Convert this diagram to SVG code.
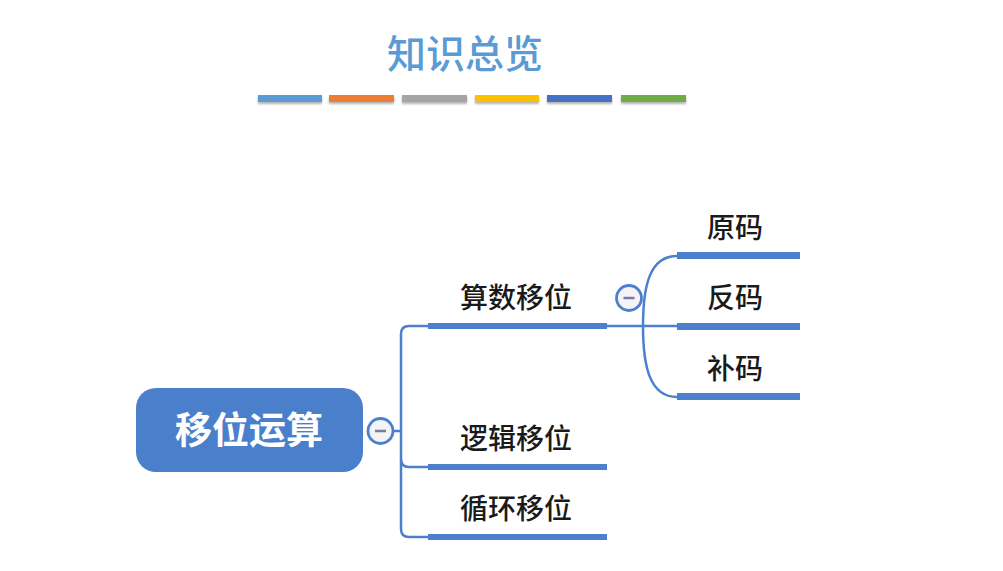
<svg xmlns="http://www.w3.org/2000/svg" width="1003" height="571" viewBox="0 0 1003 571">
<defs>
<style>
.t{font-family:"Noto Sans CJK SC","Noto Sans",sans-serif;fill:#1a1a1a;font-size:28px;font-weight:500;text-anchor:middle}
.title{font-family:"Noto Sans CJK SC",serif;fill:#5B9BD5;font-size:39px;font-weight:500;text-anchor:middle}
.root{font-family:"Noto Sans CJK SC",sans-serif;fill:#ffffff;font-size:37px;font-weight:bold;text-anchor:middle}
.bar{fill:#4C80CC}
.ln{fill:none;stroke:#4C80CC;stroke-width:2.5}
.tog{fill:#f4f4f6;stroke:#4C80CC;stroke-width:2.8}
.minus{stroke:#7a7aa0;stroke-width:2.5}
</style>
<filter id="sh" x="-10%" y="-50%" width="120%" height="250%"><feDropShadow dx="0" dy="2" stdDeviation="1.2" flood-color="#000" flood-opacity="0.3"/></filter>
</defs>
<rect width="1003" height="571" fill="#ffffff"/>
<g id="title">
<text class="title" x="465" y="68">知识总览</text>
<g filter="url(#sh)">
<rect x="258" y="95" width="64" height="7" fill="#5B9BD5"/>
<rect x="329" y="95" width="65" height="7" fill="#ED7D31"/>
<rect x="402" y="95" width="65" height="7" fill="#A5A5A5"/>
<rect x="475" y="95" width="64" height="7" fill="#FFC000"/>
<rect x="547" y="95" width="65" height="7" fill="#4472C4"/>
<rect x="621" y="95" width="65" height="7" fill="#70AD47"/>
</g>
</g>
<g id="connectors">
<path class="ln" d="M393,431 H401"/>
<path class="ln" d="M428,326 H409 Q401,326 401,334 V529 Q401,537 409,537 H428"/>
<path class="ln" d="M401,459 Q401,467 409,467 H428"/>
<path class="ln" d="M607,326 H677"/>
<path class="ln" d="M643,326 C643,285 650,256 677,256"/>
<path class="ln" d="M643,326 C643,367 650,397 677,397"/>
</g>
<g id="root">
<rect x="136" y="388" width="227" height="84" rx="20" fill="#4A7FCB"/>
<text class="root" x="249" y="444">移位运算</text>
<circle class="tog" cx="380.5" cy="431" r="12.5"/>
<line class="minus" x1="375" y1="431" x2="386" y2="431"/>
</g>
<g id="n-suanshu">
<rect class="bar" x="428" y="323" width="179" height="6"/>
<text class="t" x="516" y="308">算数移位</text>
<circle class="tog" cx="629" cy="298" r="12.5"/>
<line class="minus" x1="623.5" y1="298" x2="634.5" y2="298"/>
</g>
<g id="n-luoji">
<rect class="bar" x="428" y="464" width="179" height="6"/>
<text class="t" x="516" y="449">逻辑移位</text>
</g>
<g id="n-xunhuan">
<rect class="bar" x="428" y="534" width="179" height="6"/>
<text class="t" x="516" y="519">循环移位</text>
</g>
<g id="n-yuanma">
<rect class="bar" x="677" y="252" width="123" height="7"/>
<text class="t" x="735" y="238">原码</text>
</g>
<g id="n-fanma">
<rect class="bar" x="677" y="323" width="123" height="7"/>
<text class="t" x="735" y="308">反码</text>
</g>
<g id="n-buma">
<rect class="bar" x="677" y="393" width="123" height="7"/>
<text class="t" x="735" y="379">补码</text>
</g>
</svg>
